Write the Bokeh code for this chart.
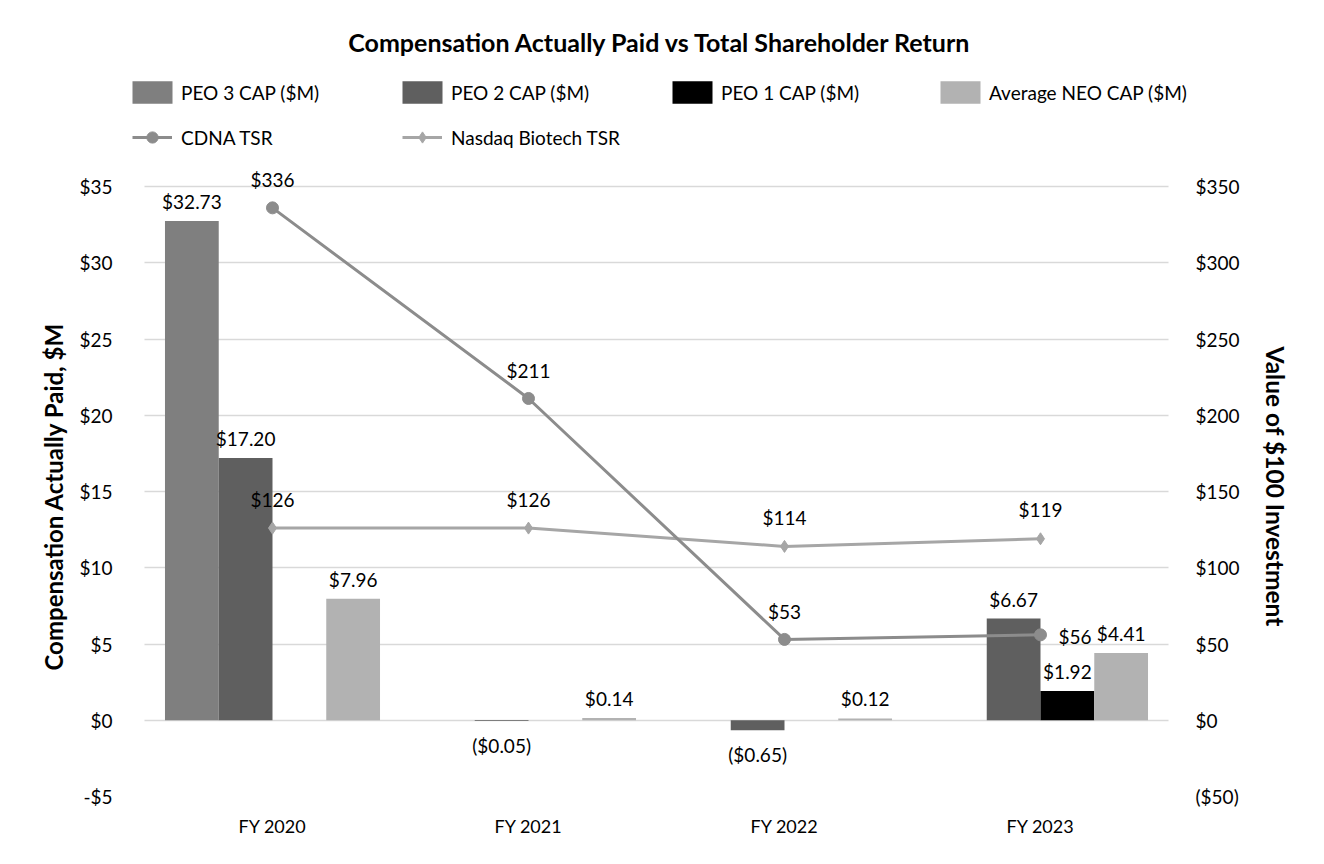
from bokeh.plotting import figure
from bokeh.models import (ColumnDataSource, Range1d, LinearAxis, FixedTicker,
                          CustomJSTickFormatter, Label, Legend, LegendItem, Title)
from bokeh.transform import dodge
from bokeh.embed import file_html
from bokeh.resources import INLINE
from bokeh.core.properties import value

# ---------------- data ----------------
years = ["FY 2020", "FY 2021", "FY 2022", "FY 2023"]
peo3_cap = [32.73, None, None, None]
peo2_cap = [17.20, -0.05, -0.65, 6.67]
peo1_cap = [None, None, None, 1.92]
neo_cap = [7.96, 0.14, 0.12, 4.41]
cdna_tsr = [336, 211, 53, 56]
nbi_tsr = [126, 126, 114, 119]
left_ticks = [-5, 0, 5, 10, 15, 20, 25, 30, 35]
right_ticks = [-50, 0, 50, 100, 150, 200, 250, 300, 350]

FONT = "Lato"
TXT = "#000000"

def money(v, dec=2):
    s = f"${abs(v):.{dec}f}"
    return f"({s})" if v < 0 else s

# category slots: one unit per fiscal year, centred on i + 0.5
pos = [i + 0.5 for i in range(len(years))]

# frame spans the whole height above the -5 line (title/legend live inside it)
p = figure(x_range=Range1d(-0.0703, 4.125), y_range=Range1d(-5, 47.197), title=None,
           width=1308, height=848, output_backend="svg", toolbar_location=None,
           min_border_left=126, min_border_right=108, min_border_top=0, min_border_bottom=52)
p.extra_y_ranges = {"tsr": Range1d(-50, 471.97)}
p.outline_line_color = None
p.background_fill_color = "white"
p.border_fill_color = "white"

# ---------------- bars ----------------
bar_specs = [
    ("PEO 3 CAP ($M)", peo3_cap, "#7f7f7f", -0.315),
    ("PEO 2 CAP ($M)", peo2_cap, "#5f5f5f", -0.105),
    ("PEO 1 CAP ($M)", peo1_cap, "#000000", 0.105),
    ("Average NEO CAP ($M)", neo_cap, "#b2b2b2", 0.315),
]
bar_renderers = []
for name, vals, color, off in bar_specs:
    xs = [x for x, v in zip(pos, vals) if v is not None]
    vs = [v for v in vals if v is not None]
    src = ColumnDataSource(dict(x=xs, v=vs, t=[money(v) for v in vs],
                                off=[-8 if v >= 0 else 13 for v in vs],
                                base=["bottom" if v >= 0 else "top" for v in vs]))
    r = p.vbar(x=dodge("x", off), top="v", bottom=0, width=0.21,
               source=src, fill_color=color, line_color=None)
    bar_renderers.append((name, r))
    p.text(x=dodge("x", off), y="v", text="t", source=src,
           y_offset="off", text_baseline="base", text_align="center",
           text_font=value(FONT), text_font_size="19px", text_color=TXT)

# ---------------- lines ----------------
cdna_src = ColumnDataSource(dict(x=pos, v=cdna_tsr))
nbi_src = ColumnDataSource(dict(x=pos, v=nbi_tsr, t=[money(v, 0) for v in nbi_tsr]))

nbi_line = p.line(x="x", y="v", source=nbi_src, y_range_name="tsr", line_color="#a6a6a6", line_width=3)
nbi_pts = p.scatter(x="x", y="v", source=nbi_src, y_range_name="tsr", marker="diamond", size=12,
                    fill_color="#a6a6a6", line_color="#a6a6a6")
cdna_line = p.line(x="x", y="v", source=cdna_src, y_range_name="tsr", line_color="#8c8c8c", line_width=3)
cdna_pts = p.scatter(x="x", y="v", source=cdna_src, y_range_name="tsr", marker="circle", size=12,
                     fill_color="#8c8c8c", line_color="#8c8c8c")

cdna_lab = ColumnDataSource(dict(x=pos, v=cdna_tsr, t=[money(v, 0) for v in cdna_tsr],
                                 dx=[0, 0, 0, 18], dy=[-28, -28, -28, 2],
                                 al=["center", "center", "center", "left"]))
p.text(x="x", y="v", text="t", source=cdna_lab, y_range_name="tsr",
       x_offset="dx", y_offset="dy", text_align="al", text_baseline="middle",
       text_font=value(FONT), text_font_size="19px", text_color=TXT)
p.text(x="x", y="v", text="t", source=nbi_src, y_range_name="tsr",
       y_offset=-29, text_align="center", text_baseline="middle",
       text_font=value(FONT), text_font_size="19px", text_color=TXT)

# ---------------- axes ----------------
def style_axis(ax, size="19px"):
    ax.axis_line_color = None
    ax.major_tick_line_color = None
    ax.minor_tick_line_color = None
    ax.major_tick_in = 0
    ax.major_tick_out = 0
    ax.major_label_text_font = FONT
    ax.major_label_text_font_size = size
    ax.major_label_text_color = TXT

ly = p.yaxis[0]
style_axis(ly)
ly.ticker = FixedTicker(ticks=left_ticks)
ly.formatter = CustomJSTickFormatter(code='return (tick < 0 ? "-$" : "$") + Math.abs(tick).toFixed(0);')
ly.major_label_standoff = 14

ry = LinearAxis(y_range_name="tsr", ticker=FixedTicker(ticks=right_ticks),
                formatter=CustomJSTickFormatter(code='return tick < 0 ? "($" + Math.abs(tick).toFixed(0) + ")" : "$" + tick.toFixed(0);'))
style_axis(ry)
ry.major_label_standoff = -5
p.add_layout(ry, "right")

xa = p.xaxis[0]
style_axis(xa, "18px")
xa.ticker = FixedTicker(ticks=pos)
xa.major_label_overrides = {x: y for x, y in zip(pos, years)}
xa.major_label_standoff = 18

p.xgrid.grid_line_color = None
p.ygrid.ticker = FixedTicker(ticks=left_ticks)
p.ygrid.grid_line_color = "#d9d9d9"
p.ygrid.grid_line_width = 1.5
try:
    p.ygrid.cross_bounds = (0, len(years))
except Exception:
    pass

# axis titles, centred on the -5..35 span
p.add_layout(Title(text="Compensation Actually Paid, $M", align="left", offset=126,
                   vertical_align="middle", standoff=16, text_font=FONT, text_font_size="24px",
                   text_font_style="bold", text_color=TXT), "left")
p.add_layout(Title(text="Value of $100 Investment", align="left", offset=346,
                   vertical_align="middle", standoff=35, text_font=FONT, text_font_size="24.5px",
                   text_font_style="bold", text_color=TXT), "right")

# ---------------- chart title ----------------
p.add_layout(Label(x=534, y=755, x_units="screen", y_units="screen",
                   text="Compensation Actually Paid vs Total Shareholder Return",
                   text_align="center", text_baseline="middle", text_font=FONT,
                   text_font_size="25px", text_font_style="bold", text_color=TXT))

# ---------------- legends ----------------
def add_legend(label, renderers, loc, gw, gh, standoff):
    lg = Legend(items=[LegendItem(label=label, renderers=renderers)], location=loc,
                orientation="horizontal", padding=0, margin=0, spacing=0,
                glyph_width=gw, glyph_height=gh, label_height=gh, label_standoff=standoff,
                border_line_color=None, background_fill_alpha=0,
                label_text_font=FONT, label_text_font_size="19px", label_text_color=TXT)
    p.add_layout(lg, "center")

cols = [6, 276, 546, 814]
for (name, r), cx in zip(bar_renderers, cols):
    add_legend(name, [r], (cx - 5, 690), 50, 28, 4)
add_legend("CDNA TSR", [cdna_line, cdna_pts], (cols[0], 645), 40, 28, 9)
add_legend("Nasdaq Biotech TSR", [nbi_line, nbi_pts], (cols[1], 645), 40, 28, 9)

open("out.html", "w").write(file_html(p, INLINE))
